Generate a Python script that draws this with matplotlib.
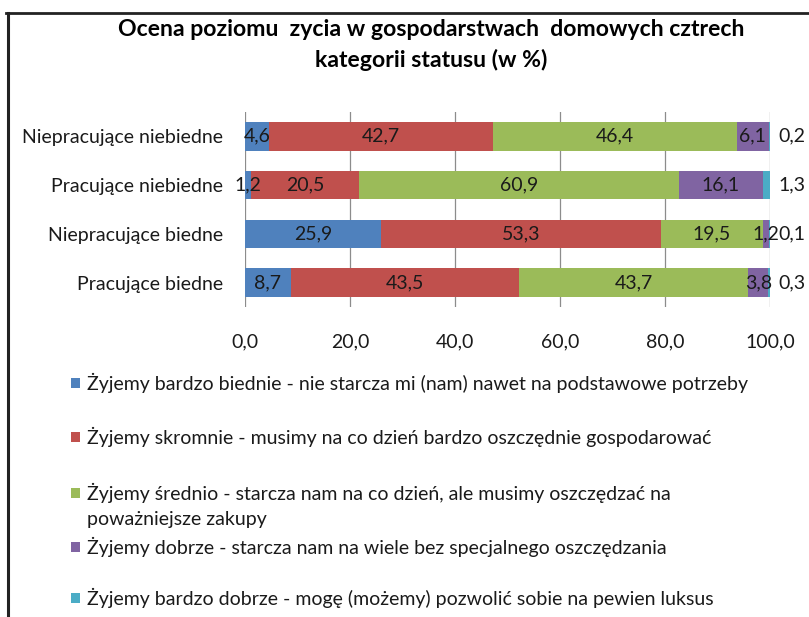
import matplotlib
matplotlib.use("Agg")
import matplotlib.pyplot as plt
from matplotlib.patches import Rectangle
from matplotlib.lines import Line2D
import numpy as np

plt.rcParams['font.family'] = ['Lato', 'DejaVu Sans']

title_lines = ["Ocena poziomu  zycia w gospodarstwach  domowych cztrech",
               "kategorii statusu (w %)"]
categories = ["Niepracujące niebiedne", "Pracujące niebiedne",
              "Niepracujące biedne", "Pracujące biedne"]
series_names = [
    "Żyjemy bardzo biednie - nie starcza mi (nam) nawet na podstawowe potrzeby",
    "Żyjemy skromnie - musimy na co dzień bardzo oszczędnie gospodarować",
    "Żyjemy średnio - starcza nam na co dzień, ale musimy oszczędzać na\npoważniejsze zakupy",
    "Żyjemy dobrze - starcza nam na wiele bez specjalnego oszczędzania",
    "Żyjemy bardzo dobrze - mogę (możemy) pozwolić sobie na pewien luksus",
]
bardzo_biednie = [4.6, 1.2, 25.9, 8.7]
skromnie = [42.7, 20.5, 53.3, 43.5]
srednio = [46.4, 60.9, 19.5, 43.7]
dobrze = [6.1, 16.1, 1.2, 3.8]
bardzo_dobrze = [0.2, 1.3, 0.1, 0.3]
series = [bardzo_biednie, skromnie, srednio, dobrze, bardzo_dobrze]
colors = ["#4F81BD", "#C0504D", "#9BBB59", "#8064A2", "#4BACC6"]
xticks = [0, 20, 40, 60, 80, 100]

W, H = 809, 617
fig = plt.figure(figsize=(W / 100, H / 100), dpi=100)
ax = fig.add_axes([245 / W, 1 - 307 / H, 525 / W, 195 / H])

txt = "#1a1a1a"
fs = 14
y = np.arange(len(categories))
left = np.zeros(len(categories))
for i, (vals, col) in enumerate(zip(series, colors)):
    vals = np.array(vals)
    ax.barh(y, vals, left=left, height=0.58, color=col, zorder=3)
    for j, v in enumerate(vals):
        lbl = f"{v:.1f}".replace(".", ",")
        if i == len(series) - 1:
            ax.annotate(lbl, xy=(100, y[j]), xytext=(6, 0), textcoords="offset points",
                        ha="left", va="center", fontsize=fs, color=txt)
        else:
            ax.text(left[j] + v / 2, y[j], lbl, ha="center", va="center",
                    fontsize=fs, color=txt, zorder=4)
    left += vals

ax.set_ylim(3.5, -0.5)
ax.set_xlim(0, 100)
ax.set_xticks(xticks)
ax.set_xticklabels([f"{t:.1f}".replace(".", ",") for t in xticks], fontsize=fs, color=txt)
ax.set_yticks(y)
ax.set_yticklabels(categories, fontsize=fs, color=txt)
ax.tick_params(axis="x", length=0, pad=19)
ax.tick_params(axis="y", length=0, pad=16)
for s in ax.spines.values():
    s.set_visible(False)
ax.grid(axis="x", color="#8c8c8c", linewidth=0.9, zorder=0)
ax.set_axisbelow(True)

for k, (line, yy) in enumerate(zip(title_lines, [29, 60])):
    fig.text(431 / W, 1 - yy / H, line, ha="center", va="center", fontsize=16.6,
             fontweight="bold", color="#000000")

# frame
fig.add_artist(Line2D([6 / W, 1], [1 - 12.5 / H] * 2, transform=fig.transFigure,
                      color="#222222", linewidth=2))
fig.add_artist(Line2D([8 / W] * 2, [0, 1 - 12.5 / H], transform=fig.transFigure,
                      color="#222222", linewidth=2.2))

# legend
leg_y = [383, 437, 493, 547, 598]
for name, col, yy in zip(series_names, colors, leg_y):
    fig.add_artist(Rectangle((71 / W, 1 - (yy + 5) / H), 9 / W, 10 / H,
                             transform=fig.transFigure, color=col, linewidth=0))
    lines = name.split("\n")
    for k, line in enumerate(lines):
        fig.text(87 / W, 1 - (yy + k * 27) / H, line, ha="left", va="center",
                 fontsize=fs, color=txt)

fig.savefig("out.png", dpi=100)
